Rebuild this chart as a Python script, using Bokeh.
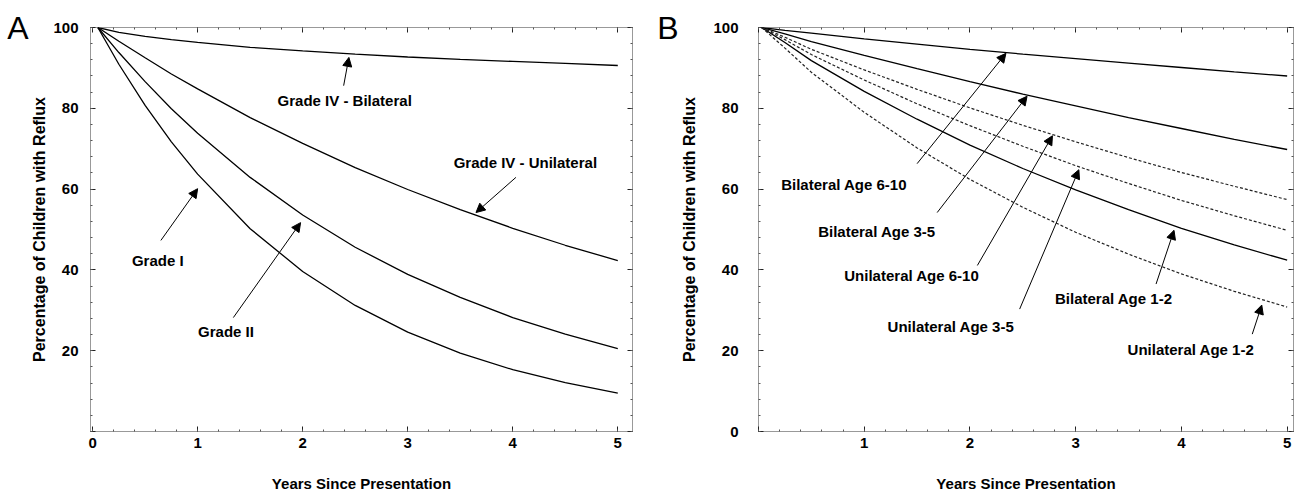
from bokeh.plotting import figure
from bokeh.layouts import row
from bokeh.models import (Range1d, LinearAxis, SingleIntervalTicker, FixedTicker, Arrow, NormalHead,
                          ColumnDataSource, CustomJSTickFormatter)
from bokeh.core.properties import value
from bokeh.embed import file_html
from bokeh.resources import INLINE

FONT = "Liberation Sans"

# ---------------- Panel A data ----------------
years_a = [0.05, 0.25, 0.5, 0.75, 1, 1.5, 2, 2.5, 3, 3.5, 4, 4.5, 5]
grade_iv_bilateral = [100, 98.8, 97.8, 97.0, 96.3, 95.1, 94.2, 93.4, 92.7, 92.1, 91.6, 91.1, 90.6]
grade_iv_unilateral = [100, 96.6, 92.5, 88.5, 84.8, 77.7, 71.3, 65.3, 59.9, 54.9, 50.3, 46.1, 42.3]
grade_ii = [100, 93.8, 86.6, 79.9, 73.8, 62.9, 53.6, 45.6, 38.9, 33.2, 28.2, 24.1, 20.5]
grade_i = [100, 90.9, 80.7, 71.7, 63.7, 50.2, 39.6, 31.2, 24.6, 19.4, 15.3, 12.1, 9.5]

labels_a = ["Grade IV - Bilateral", "Grade IV - Unilateral", "Grade I", "Grade II"]
label_a_x = [2.4, 4.12, 0.62, 1.27]
label_a_y = [81.9, 66.6, 42.3, 24.8]
arrow_a_x0 = [2.39, 4.03, 0.65, 1.34]
arrow_a_y0 = [85.6, 62.9, 47.3, 28.2]
arrow_a_x1 = [2.44, 3.65, 1.0, 1.98]
arrow_a_y1 = [92.6, 54.2, 60.1, 51.7]

# ---------------- Panel B data ----------------
years_b = [0.03, 0.25, 0.5, 1, 1.5, 2, 2.5, 3, 3.5, 4, 4.5, 5]
bilateral_6_10 = [100, 99.3, 98.6, 97.2, 95.9, 94.6, 93.4, 92.3, 91.2, 90.1, 89.0, 88.0]
bilateral_3_5 = [100, 98.4, 96.5, 93.1, 89.8, 86.6, 83.5, 80.6, 77.7, 75.0, 72.3, 69.8]
bilateral_1_2 = [100, 96.3, 91.8, 84.2, 77.3, 70.9, 65.1, 59.8, 54.9, 50.3, 46.2, 42.4]
unilateral_6_10 = [100, 97.6, 94.6, 89.5, 84.7, 80.1, 75.8, 71.7, 67.8, 64.1, 60.7, 57.4]
unilateral_3_5 = [100, 97.0, 93.3, 87.0, 81.1, 75.7, 70.6, 65.8, 61.4, 57.2, 53.4, 49.8]
unilateral_1_2 = [100, 94.9, 88.9, 79.0, 70.2, 62.4, 55.5, 49.3, 43.9, 39.0, 34.7, 30.8]

labels_b = ["Bilateral Age 6-10", "Bilateral Age 3-5", "Unilateral Age 6-10",
            "Unilateral Age 3-5", "Bilateral Age 1-2", "Unilateral Age 1-2"]
label_b_x = [0.81, 1.12, 1.45, 1.82, 3.36, 4.09]
label_b_y = [61.1, 49.5, 38.7, 25.9, 32.8, 20.4]
arrow_b_x0 = [1.50, 1.69, 2.07, 2.47, 3.76, 4.67]
arrow_b_y0 = [66.3, 54.2, 41.1, 30.3, 36.5, 24.1]
arrow_b_x1 = [2.34, 2.54, 2.78, 3.03, 3.93, 4.76]
arrow_b_y1 = [93.6, 83.0, 73.2, 64.8, 49.8, 31.3]

panel_letters = ["A", "B"]

x_label = "Years Since Presentation"
y_label = "Percentage of Children with Reflux"


def make_panel(width, xr, yr, borders, xlabels_hide0, ylabels_hide0, x_standoff, y_standoff,
               y_tick_standoff, letter, letter_standoff):
    p = figure(width=width, height=498, x_range=Range1d(*xr), y_range=Range1d(*yr),
               output_backend="svg", toolbar_location=None, title=None,
               x_axis_location=None, y_axis_location=None,
               min_border_left=borders[0], min_border_right=borders[1],
               min_border_top=borders[2], min_border_bottom=borders[3])
    p.grid.visible = False
    p.outline_line_color = "#333333"
    p.outline_line_dash = "1 1"
    p.outline_line_width = 1
    p.background_fill_color = "white"
    p.border_fill_color = "white"

    def style(ax, show_labels):
        ax.axis_line_color = None
        ax.major_tick_in = 5
        ax.major_tick_out = 0
        ax.minor_tick_in = 2
        ax.minor_tick_out = 0
        ax.major_tick_line_color = "#222222"
        ax.minor_tick_line_color = "#555555"
        ax.major_label_text_font = FONT
        ax.major_label_text_font_style = "bold"
        ax.major_label_text_color = "black"
        if show_labels:
            ax.major_label_text_font_size = "15px"
        else:
            ax.formatter = CustomJSTickFormatter(code="return ''")
            ax.major_label_text_font_size = "1px"
            ax.major_label_standoff = 0
        ax.axis_label_text_font = FONT
        ax.axis_label_text_font_style = "bold"
        ax.axis_label_text_color = "black"

    xb = LinearAxis(ticker=SingleIntervalTicker(interval=1, num_minor_ticks=5))
    style(xb, True)
    xb.major_label_standoff = 6
    xb.axis_label = x_label
    xb.axis_label_text_font_size = "15px"
    xb.axis_label_standoff = x_standoff
    if xlabels_hide0:
        xb.major_label_overrides = {0: ""}
    p.add_layout(xb, "below")

    yl = LinearAxis(ticker=SingleIntervalTicker(interval=20, num_minor_ticks=5))
    style(yl, True)
    yl.major_label_standoff = y_tick_standoff
    yl.axis_label = y_label
    yl.axis_label_text_font_size = "16px"
    yl.axis_label_standoff = y_standoff
    if ylabels_hide0:
        yl.major_label_overrides = {0: ""}
    p.add_layout(yl, "left")

    # panel letter, drawn as the single label of an outer, line-less left axis
    la = LinearAxis(ticker=FixedTicker(ticks=[yr[1] - 0.1], minor_ticks=[]),
                    formatter=CustomJSTickFormatter(code="return '%s'" % letter))
    la.axis_line_color = None
    la.major_tick_line_color = None
    la.minor_tick_line_color = None
    la.major_tick_in = 0
    la.major_tick_out = 0
    la.major_label_standoff = letter_standoff
    la.major_label_text_font = FONT
    la.major_label_text_font_size = "32px"
    la.major_label_text_font_style = "normal"
    la.major_label_text_color = "black"
    p.add_layout(la, "left")

    xt = LinearAxis(ticker=SingleIntervalTicker(interval=1, num_minor_ticks=5))
    style(xt, False)
    p.add_layout(xt, "above")
    yr_ax = LinearAxis(ticker=SingleIntervalTicker(interval=20, num_minor_ticks=5))
    style(yr_ax, False)
    p.add_layout(yr_ax, "right")
    return p


def add_labels(p, texts, lx, ly, ax0, ay0, ax1, ay1):
    src = ColumnDataSource(dict(x=lx, y=ly, t=texts))
    p.text(x="x", y="y", text="t", source=src, text_font=value(FONT),
           text_font_style="bold", text_font_size="15px", text_align="center",
           text_baseline="middle", text_color="black")
    asrc = ColumnDataSource(dict(x0=ax0, y0=ay0, x1=ax1, y1=ay1))
    p.add_layout(Arrow(end=NormalHead(size=9, fill_color="black", line_color="black", line_width=1),
                       x_start="x0", y_start="y0", x_end="x1", y_end="y1", source=asrc,
                       line_color="black", line_width=1))


# Panel A
pa = make_panel(650, (-0.02, 5.14), (0, 100), (90, 18, 27, 67), False, True, 24, 2, 12,
                panel_letters[0], 0)
for ys in [grade_iv_bilateral, grade_iv_unilateral, grade_ii, grade_i]:
    pa.line(years_a, ys, line_color="black", line_width=1.3)
add_labels(pa, labels_a, label_a_x, label_a_y, arrow_a_x0, arrow_a_y0, arrow_a_x1, arrow_a_y1)

# Panel B
pb = make_panel(653, (0, 5.06), (0, 100), (108, 10, 27, 67), True, False, 24, 12, 20,
                panel_letters[1], 0)
for ys in [bilateral_6_10, bilateral_3_5, bilateral_1_2]:
    pb.line(years_b, ys, line_color="black", line_width=1.3)
for ys in [unilateral_6_10, unilateral_3_5, unilateral_1_2]:
    pb.line(years_b, ys, line_color="#222222", line_width=1.2, line_dash="3 2")
add_labels(pb, labels_b, label_b_x, label_b_y, arrow_b_x0, arrow_b_y0, arrow_b_x1, arrow_b_y1)

layout = row(pa, pb)
open("out.html", "w").write(file_html(layout, INLINE))
